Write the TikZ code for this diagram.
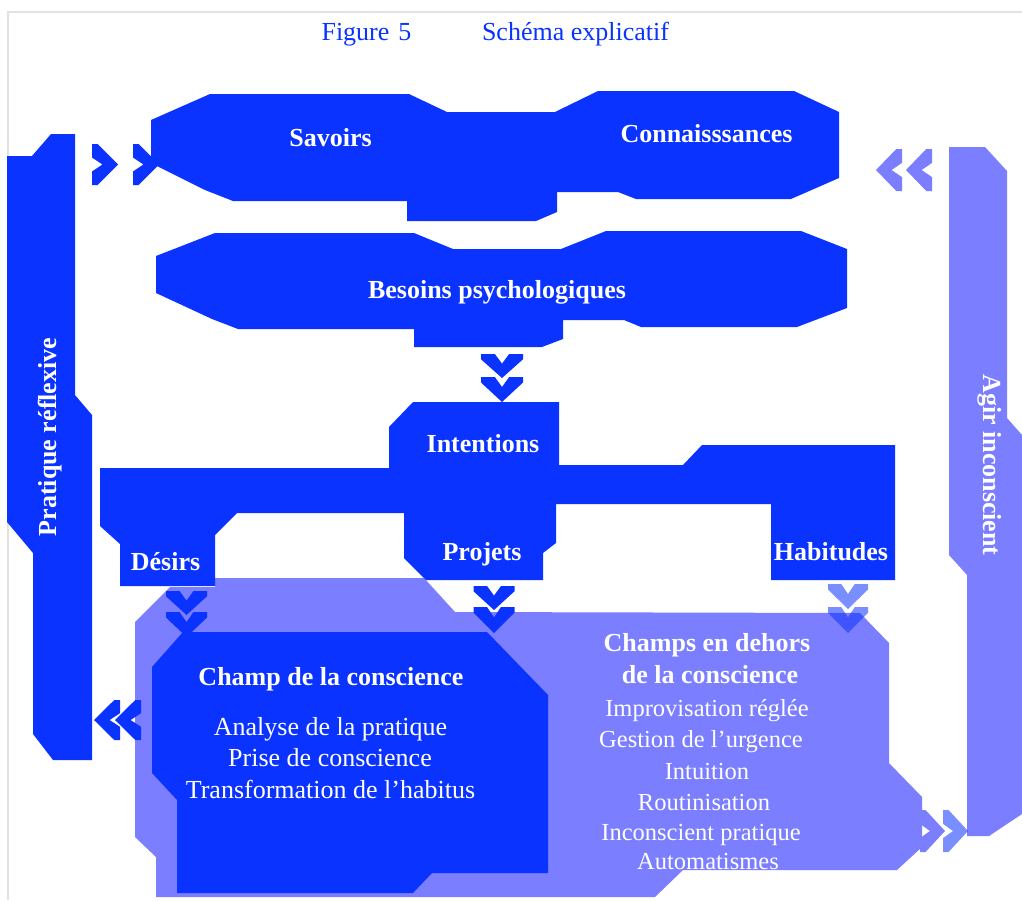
\documentclass[tikz,border=0pt]{standalone}
\usepackage{fontspec}
\setmainfont{Liberation Serif}
\definecolor{dblue}{RGB}{11,51,255}
\definecolor{lblue}{RGB}{122,126,255}
\definecolor{framegray}{RGB}{226,226,226}
% chevron: color/options, x, y (base centre), rotation, half width, length
\newcommand\chev[6]{%
  \fill[#1,shift={(#2,#3)},rotate=#4]
    ({-#5},0) -- ({-0.34*#5},0) -- (0,{0.4*#6}) -- ({0.34*#5},0) -- ({#5},0)
    -- ({#5},{0.22*#6}) -- (0,{#6}) -- ({-#5},{0.22*#6}) -- cycle;}
\begin{document}
\begin{tikzpicture}[x=1pt,y=-1pt,
  lab/.style={text=white, font=\bfseries\fontsize{26}{30}\selectfont, anchor=base, inner sep=0pt},
  txt/.style={text=white, font=\fontsize{26}{30}\selectfont, anchor=base, inner sep=0pt},
  txts/.style={text=white, font=\fontsize{24.5}{28}\selectfont, anchor=base, inner sep=0pt},
  ttl/.style={text=dblue, font=\fontsize{26}{30}\selectfont, anchor=base, inner sep=0pt}]
\useasboundingbox (0,0) rectangle (1022,900);
\fill[white] (0,0) rectangle (1022,900);
\draw[framegray, line width=1.2pt] (8,900) -- (8,12) -- (1022,12);

% title
\node[ttl] (fig) at (366.5,40) {Figure\hspace{9pt}5};
\node[ttl] (schema) at (575.5,40) {Schéma explicatif};

% top shape
\fill[dblue] (151,120) -- (210,94) -- (409,94) -- (447,112) -- (555,112) -- (598,91)
  -- (794,91) -- (839,112) -- (839,178) -- (791,199) -- (636,199) -- (618,192)
  -- (557,192) -- (557,212) -- (536,221) -- (407,221) -- (407,201) -- (233,201)
  -- (205,190) -- (151,163) -- cycle;
\node[lab] (savoirs) at (330.5,146) {Savoirs};
\node[lab] (conn) at (706.5,142) {Connaisssances};

% besoins shape
\fill[dblue] (156,256) -- (215,233) -- (414,233) -- (453,249) -- (561,249) -- (606,231)
  -- (801,231) -- (847,249) -- (847,308) -- (797,327) -- (641,327) -- (624,320)
  -- (563,320) -- (563,339) -- (542,347) -- (414,347) -- (414,329) -- (238,329)
  -- (212,319) -- (156,293) -- cycle;
\node[lab] (besoins) at (497,298) {Besoins psychologiques};

% light large field
\fill[lblue] (170,587) -- (215,587) -- (215,578) -- (424,578) -- (455,612) -- (860,613)
  -- (889,643) -- (889,763) -- (922,797) -- (922,847) -- (897,870) -- (683,870)
  -- (655,897) -- (156,897) -- (156,857) -- (135,837) -- (135,622) -- cycle;

% champ de la conscience (dark)
\fill[dblue] (183,632) -- (487,632) -- (548,695) -- (548,873) -- (432,873) -- (413,893)
  -- (177,893) -- (177,800) -- (152,773) -- (152,667) -- cycle;

% intentions shape
\fill[dblue] (413,402) -- (559,402) -- (559,465) -- (683,465) -- (702,445) -- (895,445)
  -- (895,580) -- (771,580) -- (771,504) -- (556,504) -- (556,543) -- (543,553)
  -- (543,580) -- (426,580) -- (404,558) -- (404,513) -- (237,513) -- (215,535)
  -- (215,586) -- (120,586) -- (120,544) -- (100,526) -- (100,468) -- (389,468)
  -- (389,427) -- cycle;
\node[lab] (intentions) at (483,452) {Intentions};
\node[lab] (desirs) at (165.5,570) {Désirs};
\node[lab] (projets) at (482,560) {Projets};
\node[lab] (habitudes) at (831,560) {Habitudes};

% left bar
\fill[dblue] (7,156) -- (32,156) -- (51,134) -- (75,134) -- (75,395) -- (92,415)
  -- (92,760) -- (53,760) -- (33,734) -- (33,553) -- (7,522) -- cycle;
\node[lab, rotate=90] (pratique) at (56,437) {Pratique réflexive};

% right bar
\fill[lblue] (949,147) -- (985,147) -- (1007,171) -- (1007,418) -- (1022,435)
  -- (1022,814) -- (989,836) -- (967,836) -- (967,575) -- (949,555) -- cycle;
\node[lab, rotate=-90] (agir) at (983,465) {Agir inconscient};

% texts in the fields
\node[lab] (champ) at (331,685) {Champ de la conscience};
\node[txt] (analyse) at (330.5,735) {Analyse de la pratique};
\node[txt] (prise) at (330,766) {Prise de conscience};
\node[txt] (transf) at (330.5,798) {Transformation de l’habitus};

\node[lab] (dehors1) at (707,651) {Champs en dehors};
\node[lab] (dehors2) at (710,683) {de la conscience};
\node[txts] (impro) at (707,716) {Improvisation réglée};
\node[txts] (gestion) at (701,747) {Gestion de l’urgence};
\node[txts] (intuition) at (707,779) {Intuition};
\node[txts] (routine) at (704,810) {Routinisation};
\node[txts] (inconsc) at (701,840) {Inconscient pratique};
\node[txts] (auto) at (708,869) {Automatismes};

% chevrons
\chev{dblue}{92}{164.5}{90}{20.5}{26}
\chev{dblue}{133}{164.5}{90}{20.5}{26}
\chev{lblue}{902}{170}{-90}{21}{26}
\chev{lblue}{932}{170}{-90}{21}{26}
\chev{dblue}{502}{354}{0}{21}{24}
\chev{dblue}{502}{377}{0}{21}{25}
\chev{dblue}{186.5}{591}{0}{20.5}{24}
\chev{dblue}{186.5}{612}{0}{20.5}{25}
\chev{dblue}{494}{586}{0}{20.5}{24}
\chev{dblue}{494}{607}{0}{20.5}{26}
\chev{dblue,fill opacity=0.55}{848}{584}{0}{20}{25}
\chev{dblue,fill opacity=0.55}{848}{607}{0}{20}{26}
\chev{dblue}{120}{720}{-90}{20}{26}
\chev{dblue}{141}{720}{-90}{20}{26}
\chev{lblue}{920}{831}{90}{21}{25}
\chev{dblue,fill opacity=0.55}{943}{831}{90}{21}{25}
\end{tikzpicture}
\end{document}
